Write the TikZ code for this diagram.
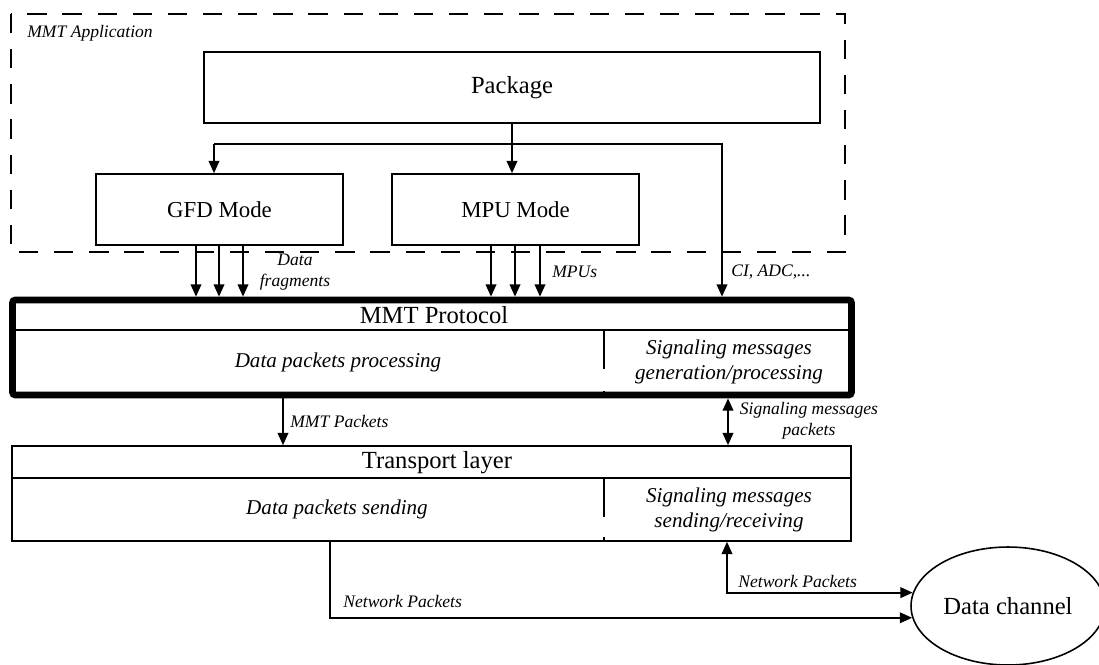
\documentclass[tikz,border=0pt]{standalone}
\usepackage{fontspec}
\setmainfont{Liberation Serif}
\usetikzlibrary{arrows.meta,shapes.geometric}

\tikzset{
    box/.style={draw, line width=0.9pt, inner sep=0pt, font=\fontsize{13}{15.6}\selectfont},
    layer/.style={draw, inner sep=0pt, minimum width=16.78cm, minimum height=1.9cm},
    arr/.style={-{Triangle[length=7pt,width=6pt]}, line width=1.1pt},
    arrb/.style={{Triangle[length=7pt,width=6pt]}-{Triangle[length=7pt,width=6pt]}, line width=1.1pt},
    lbl/.style={font=\fontsize{10}{12}\selectfont\itshape, inner sep=0pt},
    txt/.style={font=\fontsize{12}{14.4}\selectfont\itshape, align=center},
    title/.style={font=\fontsize{14}{16.8}\selectfont}
}

\begin{document}
\begin{tikzpicture}[x=0.02cm, y=-0.02cm]
    \useasboundingbox (0,0) rectangle (1099,664);

    % MMT application
    \draw[dash pattern=on 11pt off 9pt, line width=1.5pt] (11,14) rectangle (845,252);
    \node[lbl, anchor=west] (appname) at (27,33) {MMT Application};
    \node[box, title, minimum width=12.32cm, minimum height=1.42cm] (pkg) at (512,87.5) {Package};
    \node[box, minimum width=4.94cm, minimum height=1.42cm] (gfd) at (219.5,209.5) {GFD Mode};
    \node[box, minimum width=4.94cm, minimum height=1.42cm] (mpu) at (515.5,209.5) {MPU Mode};

    % MMT protocol
    \node[layer, line width=3.8pt, rounded corners=1.5pt] (proto) at (432,347.5) {};
    \draw[line width=0.9pt] (proto.west |- 0,330) -- (proto.east |- 0,330);
    \draw[line width=0.9pt, dash pattern=on 0.78cm off 0.44cm] (604,330) -- (604,395);
    \node[title] (prototitle) at (434,315) {MMT Protocol};
    \node[txt] (dataproc) at (338,362) {Data packets processing};
    \node[txt] (sigproc) at (729,362) {Signaling messages\\generation/processing};

    % transport layer
    \node[layer, line width=0.9pt] (trans) at (431.5,493.5) {};
    \draw[line width=0.9pt] (trans.west |- 0,478) -- (trans.east |- 0,478);
    \draw[line width=0.9pt, dash pattern=on 0.78cm off 0.4cm] (604,478) -- (604,541);
    \node[title] (transtitle) at (437,463) {Transport layer};
    \node[txt] (datasend) at (337,509) {Data packets sending};
    \node[txt] (sigsend) at (729,510) {Signaling messages\\sending/receiving};

    \node[draw, ellipse, line width=0.9pt, inner sep=0pt, minimum width=3.88cm, minimum height=2.36cm, title] (dc) at (1008,606) {Data channel};

    % arrows
    \coordinate (br) at (214,144);
    \draw[arr] (pkg.south) -- (pkg.south |- mpu.north);
    \draw[arr] (br) -- (br |- gfd.north);
    \draw[arr] (br) -| (proto.north -| 722,0);
    \foreach \x in {196,219,243}
        \draw[arr] (gfd.south -| \x,0) -- (proto.north -| \x,0);
    \foreach \x in {491,515,540}
        \draw[arr] (mpu.south -| \x,0) -- (proto.north -| \x,0);
    \node[lbl, align=center] (fraglbl) at (295,272.5) {Data\\fragments};
    \node[lbl, anchor=west] (mpulbl) at (552,272) {MPUs};
    \node[lbl, anchor=west] (cilbl) at (731,272) {CI, ADC,...};

    \draw[arr] (proto.south -| 283,0) -- (trans.north -| 283,0);
    \node[lbl, anchor=west] (mmtpk) at (290,421) {MMT Packets};
    \draw[arrb] (proto.south -| 728,0) -- (trans.north -| 728,0);
    \node[lbl, align=center] (sigpk) at (809,420.5) {Signaling messages\\packets};

    \draw[arr] (trans.south -| 330,0) |- (dc.187);
    \node[lbl, anchor=west] (netdown) at (343,601) {Network Packets};
    \draw[arrb] (trans.south -| 727,0) |- (dc.172);
    \node[lbl, anchor=west] (netup) at (738,581) {Network Packets};
\end{tikzpicture}
\end{document}
